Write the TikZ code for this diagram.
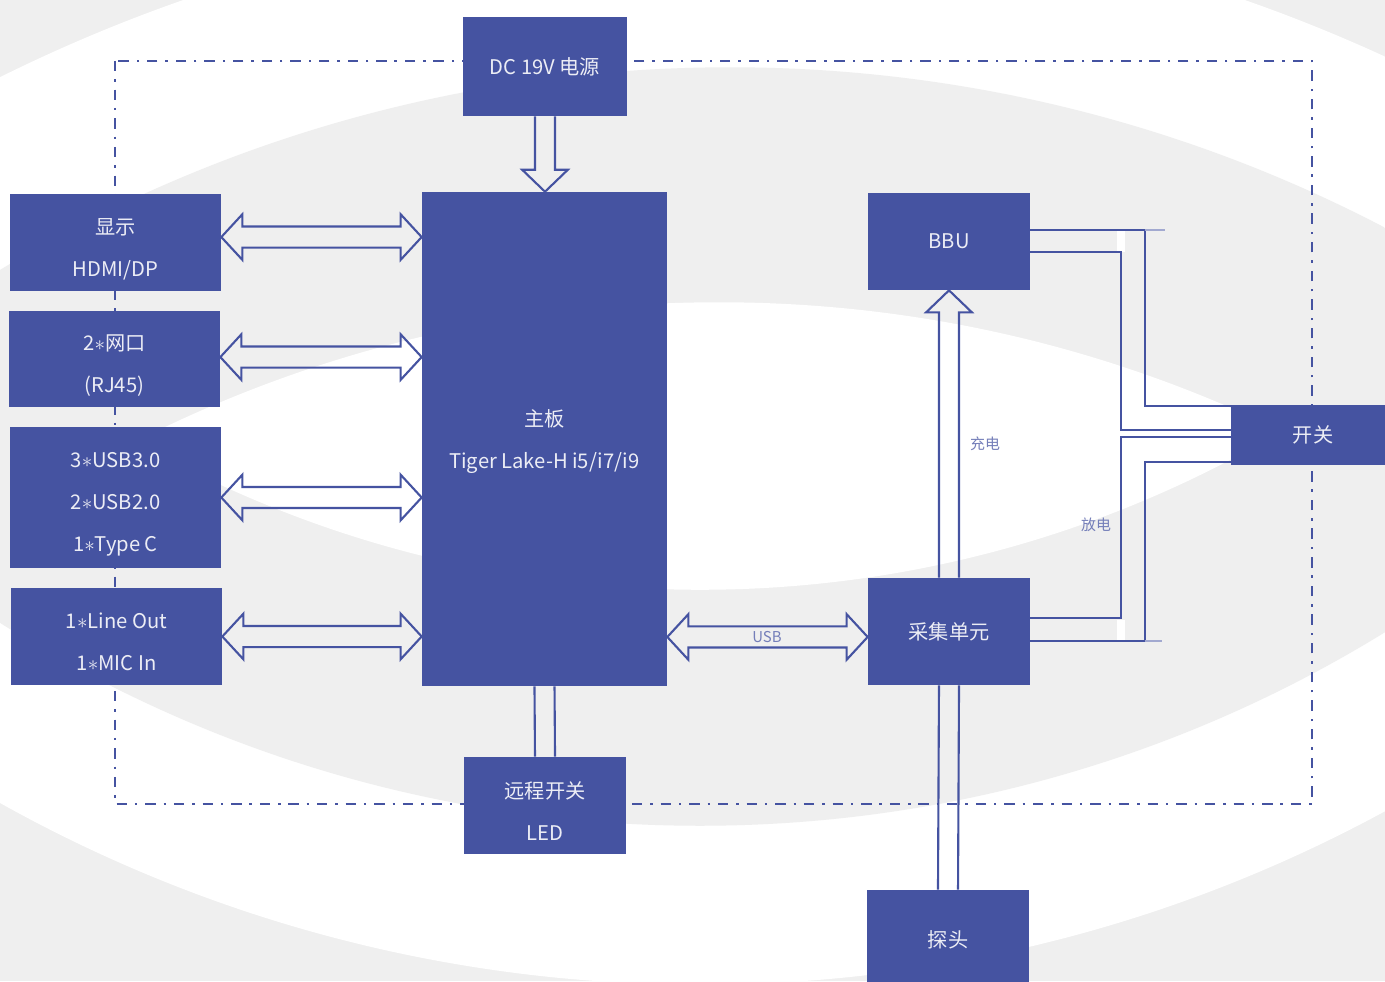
\documentclass[tikz,border=0pt]{standalone}
\usepackage{fontspec}
\setmainfont{Noto Sans CJK SC}
\usetikzlibrary{calc}

\definecolor{boxblue}{RGB}{69,83,161}
\definecolor{bggray}{RGB}{239,239,239}
\definecolor{boxtext}{RGB}{236,237,245}

% stacked lines of a block, nudged vertically
\newcommand{\btext}[2][-2.8pt]{\raisebox{#1}[\height][\depth]{\begin{tabular}{@{}c@{}}#2\end{tabular}}}

% hollow double-headed block arrow between two points (left tip, right tip)
\newcommand{\hollowarrow}[2]{%
  \coordinate (ha) at (#1);
  \coordinate (hb) at (#2);
  \draw[conn] (ha) -- ($(ha)+(12pt,13pt)$) -- ($(ha)+(12pt,6pt)$) -- ($(hb)+(-12pt,6pt)$)
    -- ($(hb)+(-12pt,13pt)$) -- (hb) -- ($(hb)+(-12pt,-13pt)$) -- ($(hb)+(-12pt,-6pt)$)
    -- ($(ha)+(12pt,-6pt)$) -- ($(ha)+(12pt,-13pt)$) -- cycle;}

\begin{document}
\begin{tikzpicture}[x=0.02cm, y=-0.02cm,
    blk/.style={fill=boxblue, text=boxtext, align=center, inner sep=0pt,
      font=\fontsize{11.5}{23.9}\selectfont},
    conn/.style={draw=boxblue, line width=1.2pt},
    frame/.style={draw=boxblue, line width=1.5pt,
      dash pattern=on 5.9pt off 4.5pt on 1.4pt off 4.5pt},
    lbl/.style={text=boxblue!75!white, inner sep=0pt,
      font=\fontsize{8.5}{10}\selectfont}]
  \useasboundingbox (0,0) rectangle (1385,981);

  % Background bands
  \begin{scope}
    \clip (0,0) rectangle (1385,981);
    \fill[bggray] (0,0) rectangle (1385,981);
    \begin{scope}
      \clip (714,1518) circle (32.16cm);
      \fill[white] (700,-452) circle (28.74cm);
    \end{scope}
    \begin{scope}
      \clip (730,1482) circle (28.3cm);
      \fill[bggray] (700,-482) circle (26.16cm);
    \end{scope}
    \begin{scope}
      \clip (719,1591) circle (25.78cm);
      \fill[white] (700,-555) circle (22.9cm);
    \end{scope}
  \end{scope}

  % Enclosure outline
  \draw[frame] (115,61) rectangle (1312,804);

  % Blocks
  \node[blk, minimum width=3.28cm, minimum height=1.98cm] (dc) at (545,66.5) {DC 19V 电源};
  \node[blk, minimum width=4.9cm, minimum height=9.88cm] (mb) at (544.5,439) {\btext[0pt]{主板\\Tiger Lake-H i5/i7/i9}};
  \node[blk, minimum width=4.22cm, minimum height=1.94cm] (disp) at (115.5,242.5) {\btext{显示\\HDMI/DP}};
  \node[blk, minimum width=4.22cm, minimum height=1.92cm] (net) at (114.5,359) {\btext[-2.3pt]{2$\ast$网口\\(RJ45)}};
  \node[blk, minimum width=4.22cm, minimum height=2.82cm] (usb) at (115.5,497.5) {\btext[-2.3pt]{3$\ast$USB3.0\\2$\ast$USB2.0\\1$\ast$Type C}};
  \node[blk, minimum width=4.22cm, minimum height=1.94cm] (aud) at (116.5,636.5) {\btext{1$\ast$Line Out\\1$\ast$MIC In}};
  \node[blk, minimum width=3.24cm, minimum height=1.94cm] (led) at (545,805.5) {\btext[-3.4pt]{远程开关\\LED}};
  \node[blk, minimum width=3.24cm, minimum height=1.94cm] (bbu) at (949,241.5) {BBU};
  \node[blk, minimum width=3.24cm, minimum height=2.14cm] (acq) at (949,631.5) {采集单元};
  \node[blk, minimum width=3.24cm, minimum height=2cm] (probe) at (948,940) {探头};
  \node[blk, minimum width=3.28cm, minimum height=1.2cm] (sw) at (1313,435) {开关};

  % Interfaces to the mainboard
  \coordinate (h1) at ($(disp.east)+(0pt,3.1pt)$);
  \hollowarrow{h1}{h1 -| mb.west}
  \coordinate (h2) at ($(net.east)+(0pt,1.1pt)$);
  \hollowarrow{h2}{h2 -| mb.west}
  \hollowarrow{usb.east}{usb.east -| mb.west}
  \hollowarrow{aud.east}{aud.east -| mb.west}
  \coordinate (h5) at ($(acq.west)+(0pt,-3.1pt)$);
  \hollowarrow{h5 -| mb.east}{h5}

  % Power in
  \coordinate (da) at (dc.south);
  \coordinate (db) at (dc.south |- mb.north);
  \draw[conn] ($(da)+(-5.7pt,0pt)$) -- ($(db)+(-5.7pt,12.5pt)$) -- ($(db)+(-13pt,12.5pt)$) -- (db)
    -- ($(db)+(13pt,12.5pt)$) -- ($(db)+(5.7pt,12.5pt)$) -- ($(da)+(5.7pt,0pt)$);

  % Charge path
  \coordinate (ca) at (acq.north);
  \coordinate (cb) at (acq.north |- bbu.south);
  \draw[conn] ($(ca)+(-5.7pt,0pt)$) -- ($(cb)+(-5.7pt,-12.5pt)$) -- ($(cb)+(-13pt,-12.5pt)$) -- (cb)
    -- ($(cb)+(13pt,-12.5pt)$) -- ($(cb)+(5.7pt,-12.5pt)$) -- ($(ca)+(5.7pt,0pt)$);

  % Plain links
  \foreach \s in {-5.7pt,5.7pt} {
    \draw[conn] ($(mb.south)+(\s,0pt)$) -- ($(led.north)+(\s,0pt)$);
    \draw[conn] ($(acq.south)+(\s,0pt)$) -- ($(probe.north)+(\s,0pt)$);
  }

  % Switch rails
  \coordinate (ro1) at (1145,230); \coordinate (ro2) at (1145,406);
  \coordinate (ri1) at (1121,252); \coordinate (ri2) at (1121,430);
  \coordinate (ri3) at (1121,437); \coordinate (ri4) at (1121,618);
  \coordinate (ro3) at (1145,462); \coordinate (ro4) at (1145,641);
  \fill[white] (1117,231) rectangle (1125,252);
  \fill[white] (1117,620) rectangle (1125,641);
  \draw[conn] (bbu.east |- ro1) -- (ro1) -- (ro2) -- (sw.west |- ro2);
  \draw[conn] (bbu.east |- ri1) -- (ri1) -- (ri2) -- (sw.west |- ri2);
  \draw[conn] (sw.west |- ri3) -- (ri3) -- (ri4) -- (acq.east |- ri4);
  \draw[conn] (sw.west |- ro3) -- (ro3) -- (ro4) -- (acq.east |- ro4);
  \draw[boxblue!50, line width=0.6pt] (ro1) -- ++(20,0);
  \draw[boxblue!50, line width=0.6pt] (ro4) -- ++(17,0);

  % Labels
  \node[lbl] (chg) at (985,444) {充电};
  \node[lbl] (dis) at (1096,525) {放电};
  \node[lbl] (usbl) at (767,637) {USB};
\end{tikzpicture}
\end{document}
